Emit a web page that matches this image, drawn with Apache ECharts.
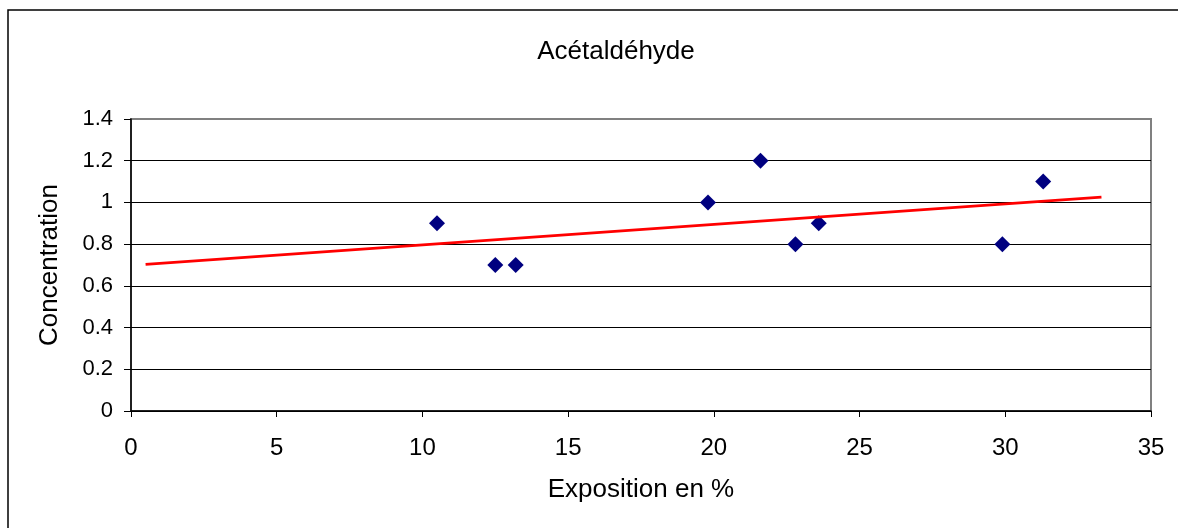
<!DOCTYPE html>
<html>
<head>
<meta charset="utf-8">
<script src="https://cdn.jsdelivr.net/npm/echarts@6/dist/echarts.min.js"></script>
<style>
html,body{margin:0;padding:0;background:#fff;}
#chart{width:1178px;height:528px;}
</style>
</head>
<body>
<div id="chart"></div>
<script>
// Data
const titleText = 'Acétaldéhyde';
const xAxisName = 'Exposition en %';
const yAxisName = 'Concentration';
const exposition = [10.5, 12.5, 13.2, 19.8, 21.6, 22.8, 23.6, 29.9, 31.3];
const concentration = [0.9, 0.7, 0.7, 1.0, 1.2, 0.8, 0.9, 0.8, 1.1];
const trendX = [0.5, 33.3];
const trendY = [0.703, 1.025];

const FONT = '"Liberation Sans", Arial, sans-serif';
const chart = echarts.init(document.getElementById('chart'), null, {renderer: 'canvas'});

const points = exposition.map((x, i) => [x, concentration[i]]);
const trend = trendX.map((x, i) => [x, trendY[i]]);

chart.setOption({
  animation: false,
  backgroundColor: '#ffffff',
  title: {
    text: titleText,
    left: 611,
    top: 34,
    textAlign: 'center',
    textStyle: {fontFamily: FONT, fontSize: 26, fontWeight: 'normal', color: '#000'}
  },
  graphic: [{
    type: 'rect',
    shape: {x: 8, y: 10, width: 1300, height: 700},
    style: {fill: 'none', stroke: '#000', lineWidth: 1.5},
    silent: true,
    z: 100
  }],
  grid: {left: 131, top: 119, right: 27, bottom: 117, show: true,
         borderColor: '#808080', borderWidth: 2, backgroundColor: '#fff'},
  xAxis: {
    type: 'value',
    min: 0, max: 35, interval: 5,
    name: xAxisName,
    nameLocation: 'middle',
    nameGap: 66,
    nameTextStyle: {fontFamily: FONT, fontSize: 26, color: '#000'},
    axisLine: {show: true, onZero: false, lineStyle: {color: '#000', width: 1.5}},
    axisTick: {show: true, inside: false, length: 6, lineStyle: {color: '#000', width: 1}},
    axisLabel: {fontFamily: FONT, fontSize: 24, color: '#000', margin: 25},
    splitLine: {show: false}
  },
  yAxis: {
    type: 'value',
    min: 0, max: 1.4, interval: 0.2,
    name: yAxisName,
    nameLocation: 'middle',
    nameGap: 68,
    nameRotate: 90,
    nameTextStyle: {fontFamily: FONT, fontSize: 26, color: '#000'},
    axisLine: {show: true, onZero: false, lineStyle: {color: '#000', width: 1.5}},
    axisTick: {show: true, inside: false, length: 7, lineStyle: {color: '#000', width: 1}},
    axisLabel: {fontFamily: FONT, fontSize: 22, color: '#000', margin: 18,
                formatter: v => String(Math.round(v * 10) / 10)},
    splitLine: {show: true, showMaxLine: false, lineStyle: {color: '#000', width: 1}}
  },
  series: [
    {
      type: 'scatter',
      data: points,
      symbol: 'diamond',
      symbolSize: 16,
      itemStyle: {color: '#000080', opacity: 1},
      z: 3
    },
    {
      type: 'line',
      data: trend,
      showSymbol: false,
      symbol: 'none',
      lineStyle: {color: '#ff0000', width: 2.8},
      z: 4
    }
  ]
});
</script>
</body>
</html>
